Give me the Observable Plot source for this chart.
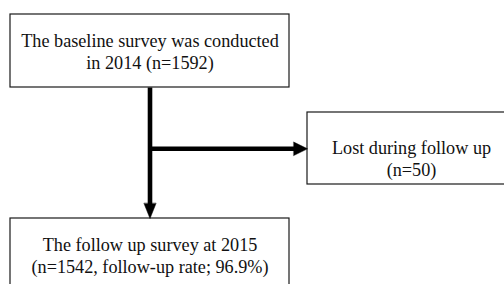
<!DOCTYPE html>
<html>
<head>
<meta charset="utf-8">
<script src="https://cdn.jsdelivr.net/npm/d3@7"></script>
<script src="https://cdn.jsdelivr.net/npm/@observablehq/plot@0.6"></script>
<style>
  html, body { margin: 0; padding: 0; background: #fff; overflow: hidden; }
  #chart svg { display: block; }
</style>
</head>
<body>
<div id="chart"></div>
<script>
// Flowchart boxes (layout units = pixels of the reference)
const boxIds = ["baseline", "lost", "followup"];
const boxX1 = [10, 307, 10];
const boxX2 = [289, 515, 289];
const boxY1 = [14, 112, 218];
const boxY2 = [87, 184, 300];

// Box labels
const boxLabels = [
  "The baseline survey was conducted\nin 2014 (n=1592)",
  "Lost during follow up\n(n=50)",
  "The follow up survey at 2015\n(n=1542, follow-up rate; 96.9%)"
];
const labelX = [149.5, 411, 149.5];
const labelBaseline = [68, 175, 272];

// Connector segments
const connX1 = [149.5, 149.5];
const connY1 = [87, 148.3];
const connX2 = [149.5, 294];
const connY2 = [204, 148.3];

// Arrowheads (triangle vertices)
const arrowId = ["down", "down", "down", "right", "right", "right"];
const arrowX = [143.5, 149.5, 155.5, 293.3, 307, 293.3];
const arrowY = [203, 218, 203, 141.6, 148.3, 155];

const boxes = boxIds.map((id, i) => ({id, x1: boxX1[i], x2: boxX2[i], y1: boxY1[i], y2: boxY2[i]}));
const labels = boxLabels.map((t, i) => ({text: t, x: labelX[i], y: labelBaseline[i]}));
const conns = connX1.map((x, i) => ({x1: x, y1: connY1[i], x2: connX2[i], y2: connY2[i]}));
const arrows = arrowId.map((id, i) => ({id, x: arrowX[i], y: arrowY[i]}));

const chart = Plot.plot({
  width: 504,
  height: 284,
  margin: 0,
  x: {type: "linear", domain: [0, 504], range: [0, 504], axis: null},
  y: {type: "linear", domain: [0, 284], range: [0, 284], axis: null},
  style: {background: "#fff", fontFamily: "'Liberation Serif', 'Times New Roman', serif"},
  marks: [
    Plot.rect(boxes, {x1: "x1", x2: "x2", y1: "y1", y2: "y2", fill: "#fff", stroke: "#1a1a1a", strokeWidth: 1.2}),
    Plot.link(conns, {x1: "x1", y1: "y1", x2: "x2", y2: "y2", stroke: "#000", strokeWidth: 4.6, strokeLinecap: "butt"}),
    Plot.line(arrows, {x: "x", y: "y", z: "id", fill: "#000", stroke: "#000", strokeWidth: 0.5, curve: "linear-closed"}),
    Plot.text(labels, {x: "x", y: "y", text: "text", fontSize: 18.2, lineHeight: 1.17, lineAnchor: "bottom", textAnchor: "middle", fill: "#111"})
  ]
});
document.getElementById("chart").appendChild(chart);
</script>
</body>
</html>
